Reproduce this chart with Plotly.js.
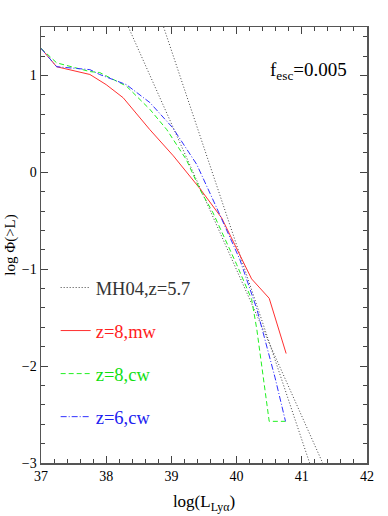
<!DOCTYPE html>
<html>
<head>
<meta charset="utf-8">
<script src="https://cdn.plot.ly/plotly-3.0.1.min.js"></script>
<style>html,body{margin:0;padding:0;background:#fff;}#chart{width:388px;height:516px;}</style>
</head>
<body>
<div id="chart"></div>
<script>
// MH04, z=5.7 (two dotted lines)
const mh04aX = [38.34, 41.32];
const mh04aY = [1.5, -3.0];
const mh04bX = [38.88, 41.12];
const mh04bY = [1.5, -3.0];

// z=8, mw
const z8mwX = [37.0, 37.24, 37.75, 38.0, 38.26, 38.67, 39.03, 39.44, 39.77, 40.23, 40.5, 40.76];
const z8mwY = [1.28, 1.09, 1.01, 0.905, 0.77, 0.44, 0.17, -0.17, -0.47, -1.10, -1.30, -1.87];

// z=8, cw
const z8cwX = [37.0, 37.24, 37.75, 37.9, 38.31, 38.67, 38.93, 39.23, 39.44, 39.64, 40.0, 40.23, 40.31, 40.5, 40.75];
const z8cwY = [1.28, 1.13, 1.04, 1.03, 0.89, 0.65, 0.44, 0.13, -0.18, -0.42, -0.95, -1.31, -1.62, -2.57, -2.57];

// z=6, cw
const z6cwX = [37.0, 37.24, 37.75, 37.9, 38.31, 38.67, 39.02, 39.21, 39.39, 39.69, 40.05, 40.31, 40.59, 40.75];
const z6cwY = [1.28, 1.09, 1.06, 1.01, 0.905, 0.72, 0.46, 0.27, 0.08, -0.36, -0.90, -1.41, -2.12, -2.57];

const serif = "Liberation Serif, Times New Roman, serif";

const traces = [
  {x: mh04aX, y: mh04aY, mode: 'lines', name: '<span style="color:#333">MH04,z=5.7</span>',
   line: {color: '#444', width: 1, dash: '1px,2px'}, legendgroup: 'a'},
  {x: mh04bX, y: mh04bY, mode: 'lines', showlegend: false,
   line: {color: '#444', width: 1, dash: '1px,2px'}, legendgroup: 'a'},
  {x: z8mwX, y: z8mwY, mode: 'lines', name: '<span style="color:#ff2020">z=8,mw</span>',
   line: {color: '#ff3030', width: 1}, legendgroup: 'b'},
  {x: z8cwX, y: z8cwY, mode: 'lines', name: '<span style="color:#10e010">z=8,cw</span>',
   line: {color: '#20f020', width: 1, dash: '5px,3px'}, legendgroup: 'c'},
  {x: z6cwX, y: z6cwY, mode: 'lines', name: '<span style="color:#2020f0">z=6,cw</span>',
   line: {color: '#3030ff', width: 1, dash: '6px,2px,1px,2px'}, legendgroup: 'd'}
];

const layout = {
  width: 388, height: 516,
  margin: {l: 41, r: 21, t: 27, b: 53},
  paper_bgcolor: '#fff', plot_bgcolor: '#fff',
  font: {family: serif, size: 14, color: '#000'},
  showlegend: true,
  legend: {x: 0.045, y: 0.445, xanchor: 'left', yanchor: 'top', bgcolor: 'rgba(0,0,0,0)',
           font: {family: serif, size: 18.5}, traceorder: 'grouped', tracegroupgap: 16},
  xaxis: {range: [37, 42], showgrid: false, zeroline: false,
          ticks: 'inside', ticklen: 7, tickwidth: 1, tickcolor: '#444', dtick: 1, tick0: 37,
          minor: {dtick: 0.2, ticks: 'inside', ticklen: 4, tickcolor: '#444'},
          showline: true, linecolor: '#555', linewidth: 1.5, mirror: 'allticks',
          tickfont: {family: serif, size: 14},
          title: {text: 'log(L<sub>Lyα</sub>)', font: {family: serif, size: 17}, standoff: 12}},
  yaxis: {range: [-3, 1.5], showgrid: false, zeroline: false,
          ticks: 'inside', ticklen: 7, tickwidth: 1, tickcolor: '#444', dtick: 1, tick0: 0,
          minor: {dtick: 0.2, ticks: 'inside', ticklen: 4, tickcolor: '#444'},
          showline: true, linecolor: '#555', linewidth: 1.5, mirror: 'allticks',
          tickfont: {family: serif, size: 14},
          title: {text: 'log Φ(>L)', font: {family: serif, size: 15}, standoff: 2}},
  annotations: [
    {xref: 'paper', yref: 'paper', x: 0.945, y: 0.9, xanchor: 'right', yanchor: 'middle',
     text: 'f<sub>esc</sub>=0.005', showarrow: false, font: {family: serif, size: 19}}
  ]
};

Plotly.newPlot('chart', traces, layout, {displayModeBar: false, staticPlot: true});
</script>
</body>
</html>
